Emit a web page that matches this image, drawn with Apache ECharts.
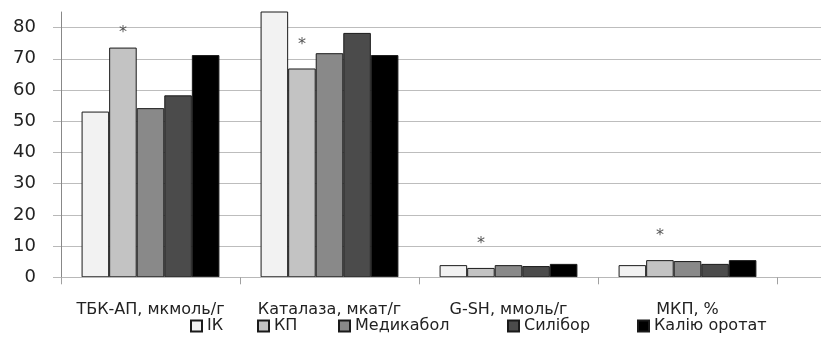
<!DOCTYPE html>
<html>
<head>
<meta charset="utf-8">
<script src="https://cdn.jsdelivr.net/npm/echarts@6/dist/echarts.min.js"></script>
<style>html,body{margin:0;padding:0;background:#fff}#c{width:821px;height:347px}</style>
</head>
<body>
<div id="c"></div>
<script>
const categories = ['ТБК-АП, мкмоль/г', 'Каталаза, мкат/г', 'G-SH, ммоль/г', 'МКП, %'];
const seriesNames = ['ІК', 'КП', 'Медикабол', 'Силібор', 'Калію оротат'];
const ik = [53.1, 92, 3.9, 3.9];
const kp = [73.6, 66.9, 3.0, 5.5];
const medikabol = [54.2, 71.8, 3.9, 5.2];
const silibor = [58.3, 78.3, 3.6, 4.3];
const kaliyOrotat = [71.2, 71.2, 4.3, 5.5];
const yTicks = [0, 10, 20, 30, 40, 50, 60, 70, 80];

const colors = ['#f2f2f2', '#c3c3c3', '#898989', '#4b4b4b', '#000000'];
const values = [ik, kp, medikabol, silibor, kaliyOrotat];
const font = '"DejaVu Sans", "Noto Sans", sans-serif';
const legendLefts = [185, 252, 333, 502, 632];
const yMax = 85;

const chart = echarts.init(document.getElementById('c'), null, {renderer: 'canvas'});
const series = seriesNames.map((name, si) => ({
  name: name,
  type: 'bar',
  xAxisIndex: 0, yAxisIndex: 0,
  barGap: 0,
  barCategoryGap: '23%',
  clip: true,
  itemStyle: {color: colors[si], borderColor: '#1a1a1a', borderWidth: 1},
  emphasis: {disabled: true},
  data: values[si].map((v, i) => si === 1 ? {
    value: v,
    label: {show: true, position: 'top', formatter: '*', distance: i === 0 ? 7 : 16,
      color: '#555', fontSize: 16, fontFamily: font}
  } : v)
}));

chart.setOption({
  animation: false,
  backgroundColor: '#fff',
  textStyle: {fontFamily: font},
  grid: [
    {left: 61, top: 12, width: 716, height: 265.3, containLabel: false},
    {left: 61, top: 12, right: 0, height: 265.3, containLabel: false}
  ],
  legend: seriesNames.map((n, i) => ({
    data: [n],
    left: legendLefts[i], top: 313,
    itemWidth: 11, itemHeight: 11,
    textStyle: {fontSize: 16, color: '#222', fontFamily: font},
    selectedMode: false,
    icon: 'rect'
  })),
  xAxis: [{
    gridIndex: 0,
    type: 'category',
    data: categories,
    z: 3,
    axisLine: {lineStyle: {color: '#b8b8b8', width: 1}},
    axisTick: {show: true, length: 7, lineStyle: {color: '#a0a0a0'}},
    axisLabel: {interval: 0, margin: 25, fontSize: 16, color: '#222', fontFamily: font},
    splitLine: {show: false}
  }, {
    gridIndex: 1,
    type: 'value', min: 0, max: 1,
    axisLine: {show: true, lineStyle: {color: '#b8b8b8', width: 1}},
    axisTick: {show: false}, axisLabel: {show: false}, splitLine: {show: false}
  }],
  yAxis: [{
    gridIndex: 0,
    type: 'value',
    min: 0, max: yMax, interval: 10,
    z: 3,
    axisLine: {show: true, lineStyle: {color: '#888', width: 1}},
    axisTick: {show: true, length: 8, lineStyle: {color: '#b8b8b8'}},
    axisLabel: {margin: 25, fontSize: 18, color: '#222', fontFamily: font, showMaxLabel: false,
      formatter: v => yTicks.indexOf(v) >= 0 ? String(v) : ''},
    splitLine: {show: false}
  }, {
    gridIndex: 1,
    type: 'value',
    min: 0, max: yMax, interval: 10,
    axisLine: {show: false}, axisTick: {show: false}, axisLabel: {show: false},
    splitLine: {show: true, showMaxLine: false, lineStyle: {color: '#bdbdbd', width: 1}}
  }],
  series: series
});
</script>
</body>
</html>
